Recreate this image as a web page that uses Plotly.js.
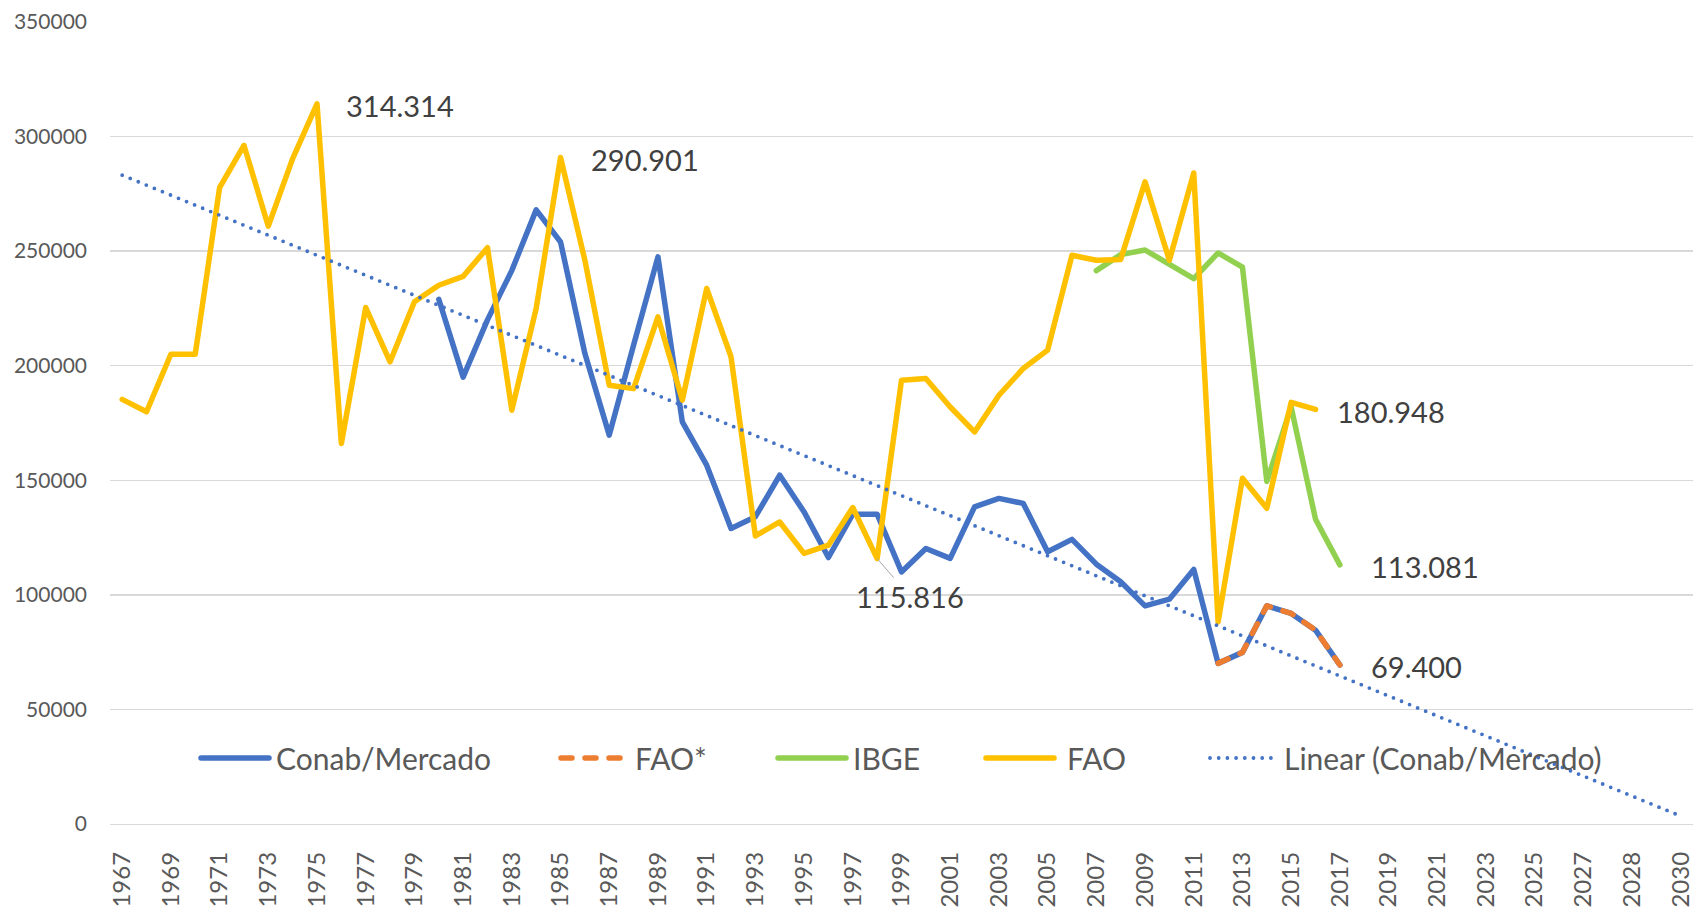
<!DOCTYPE html>
<html><head><meta charset="utf-8">
<script src="https://cdn.plot.ly/plotly-3.0.1.min.js"></script>
<style>
html,body{margin:0;padding:0;background:#fff;}
#chart{width:1696px;height:912px;}
.scatterlayer path.js-line{stroke-linejoin:round;stroke-linecap:round;}
.shapelayer path{stroke-linecap:round;}
</style></head><body><div id="chart"></div>
<script>
// ---- categories (Excel category axis, 65 slots) ----
const years = ["1967","1968","1969","1970","1971","1972","1973","1974","1975","1976",
  "1977","1978","1979","1980","1981","1982","1983","1984","1985","1986",
  "1987","1988","1989","1990","1991","1992","1993","1994","1995","1996",
  "1997","1998","1999","2000","2001","2002","2003","2004","2005","2006",
  "2007","2008","2009","2010","2011","2012","2013","2014","2015","2016",
  "2017","2018","2019","2020","2021","2022","2023","2024","2025","2026",
  "2027","2027","2028","2029","2030"];

// ---- series ----
const conabStart = "1980";
const conab = [229000,195000,220000,241600,268000,254000,205300,169700,209000,247500,
  175500,156600,129000,134100,152200,136200,116300,135200,135200,110000,
  120200,115900,138400,142100,139900,118800,124200,113400,105700,95200,
  98100,111100,70100,74900,95200,91900,84600,69400];

const faoStarStart = "2012";
const faoStar = [70100,74900,95200,91900,84600,69400];

const ibgeStart = "2007";
const ibge = [241500,248500,250500,244000,238000,249200,243000,149500,182000,133000,113081];

const faoStart = "1967";
const fao = [185300,179900,205000,205000,277700,296200,260900,290400,314314,166100,
  225400,201700,227900,235100,239000,251500,180600,225000,290901,246000,
  191500,190000,221300,185000,233700,203900,125700,131800,118100,121700,
  138100,115816,193700,194400,182000,171100,187100,198800,206800,248200,
  246000,246400,280200,246000,284100,88200,150900,137800,184000,180948];

const seriesNames = ["Conab/Mercado","FAO*","IBGE","FAO","Linear (Conab/Mercado)"];
const seriesColors = ["#4472C4","#ED7D31","#92D050","#FFC000","#4472C4"];

// labelled points: [series key, year]
const labelled = [["fao","1975"],["fao","1985"],["fao","2016"],["ibge","2017"],["faoStar","2017"],["fao","1998"]];

// ---- helpers ----
function xs(start, arr){ const s = years.indexOf(start); return arr.map((_, i) => s + i); }
const S = {
  conab: {start: conabStart, data: conab},
  faoStar: {start: faoStarStart, data: faoStar},
  ibge: {start: ibgeStart, data: ibge},
  fao: {start: faoStart, data: fao}
};
function valueAt(key, year){ const s = S[key]; return s.data[years.indexOf(year) - years.indexOf(s.start)]; }
function fmt(v){ return String(Math.round(v)).replace(/\B(?=(\d{3})+(?!\d))/g, "."); }

// linear trend (least squares) of Conab/Mercado on category index
const cx = xs(conabStart, conab);
const n = conab.length;
const mx = cx.reduce((a,b)=>a+b,0)/n, my = conab.reduce((a,b)=>a+b,0)/n;
let sxy = 0, sxx = 0;
for (let i=0;i<n;i++){ sxy += (cx[i]-mx)*(conab[i]-my); sxx += (cx[i]-mx)*(cx[i]-mx); }
const slope = sxy/sxx, icpt = my - slope*mx;
const tx = [0, years.length-1];
const ty = tx.map(x => icpt + slope*x);

const LW = 5.5;
const traces = [
  {x: cx, y: conab, name: seriesNames[0], mode: "lines", line: {color: seriesColors[0], width: LW}},
  {x: xs(faoStarStart, faoStar), y: faoStar, name: seriesNames[1], mode: "lines", line: {color: seriesColors[1], width: LW, dash: "11px,13px"}},
  {x: xs(ibgeStart, ibge), y: ibge, name: seriesNames[2], mode: "lines", line: {color: seriesColors[2], width: LW}},
  {x: xs(faoStart, fao), y: fao, name: seriesNames[3], mode: "lines", line: {color: seriesColors[3], width: LW}},
  {x: tx, y: ty, name: seriesNames[4], mode: "lines", line: {color: seriesColors[4], width: 3.8, dash: "0px,8.7px"}}
];

// ---- geometry (pixels) ----
const W = 1696, H = 912, L = 110, R = 3, T = 22, B = 88;
const PW = W - L - R, PH = H - T - B;
const px = X => (X - L) / PW;
const py = Y => (H - B - Y) / PH;

const FONT = "Lato, 'Open Sans', sans-serif";
const annotations = [];
const shapes = [];

// data labels
const lblShift = {"fao1975": 27, "fao1985": 28, "fao2016": 19, "ibge2017": 29, "faoStar2017": 29};
labelled.forEach(([key, yr]) => {
  const v = valueAt(key, yr);
  const xi = years.indexOf(yr);
  if (key === "fao" && yr === "1998") {
    annotations.push({x: xi, y: v, xref: "x", yref: "y", text: fmt(v), showarrow: true,
      arrowhead: 0, arrowwidth: 1, arrowcolor: "#A6A6A6", standoff: 0, ax: 33, ay: 38,
      font: {family: FONT, size: 29, color: "#404040"}});
  } else {
    annotations.push({x: xi, y: v, xref: "x", yref: "y", text: fmt(v), showarrow: false,
      xanchor: "left", yanchor: "middle", xshift: lblShift[key+yr], yshift: -2,
      font: {family: FONT, size: 29, color: "#404040"}});
  }
});

// legend (Excel-style, inside plot area)
const legY = 758;
const legLine = [[201,269],[561,621],[778,846],[986,1054],[1210,1271]];
const legText = [274, 633, 851, 1065, 1282];
seriesNames.forEach((nm, i) => {
  const tr = traces[i];
  shapes.push({type: "line", xref: "paper", yref: "paper", x0: px(legLine[i][0]), x1: px(legLine[i][1]),
    y0: py(legY), y1: py(legY), line: {color: tr.line.color, width: tr.line.width, dash: tr.line.dash || "solid"}});
  annotations.push({x: px(legText[i]), y: py(legY), xref: "paper", yref: "paper", text: nm, showarrow: false,
    xanchor: "left", yanchor: "middle", font: {family: FONT, size: 30, color: "#595959"}});
});

const tickvals = years.map((_, i) => i).filter(i => i % 2 === 0);
const ticktext = tickvals.map(i => years[i]);

const layout = {
  width: W, height: H,
  margin: {l: L, r: R, t: T, b: B, pad: 0},
  paper_bgcolor: "#ffffff", plot_bgcolor: "#ffffff",
  showlegend: false,
  font: {family: FONT, color: "#595959"},
  xaxis: {range: [-0.5, years.length - 0.5], tickmode: "array", tickvals: tickvals, ticktext: ticktext,
    tickangle: -90, showgrid: false, zeroline: false, showline: true, linecolor: "#D9D9D9", linewidth: 1.3,
    ticks: "", ticklabelstandoff: 17, tickfont: {family: FONT, size: 24, color: "#595959"}, fixedrange: true},
  yaxis: {range: [0, 350000], dtick: 50000, tick0: 0, tickformat: "d", showgrid: true, gridcolor: "#D9D9D9",
    gridwidth: 1.3, zeroline: false, showline: false, ticks: "", ticklabelstandoff: 22,
    tickfont: {family: FONT, size: 21, color: "#595959"}, fixedrange: true},
  annotations: annotations,
  shapes: shapes,
  hovermode: false
};

Plotly.newPlot("chart", traces, layout, {displayModeBar: false, staticPlot: true});
</script></body></html>
